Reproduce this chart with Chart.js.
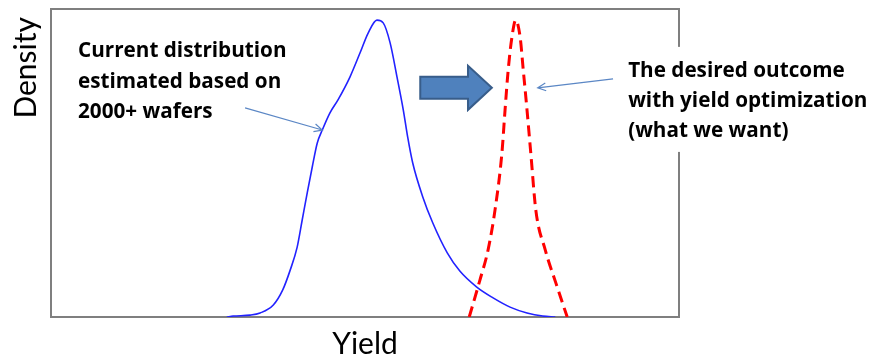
<!DOCTYPE html>
<html>
<head>
<meta charset="utf-8">
<script src="https://cdn.jsdelivr.net/npm/chart.js@4.4.1/dist/chart.umd.min.js"></script>
<style>
  html, body { margin: 0; padding: 0; background: #fff; }
  #wrap { width: 872px; height: 354px; }
</style>
</head>
<body>
<div id="wrap"><canvas id="chart"></canvas></div>
<script>
// current yield distribution (blue)
const currentYield = [28, 29.0, 31.7, 33.3, 35.4, 36.9, 38.1, 39.2, 40.0, 40.8, 41.6, 42.4, 43.2, 44.4, 45.7, 47.6, 49.2, 50.5, 51.9, 52.9, 54.0, 55.1, 56.1, 56.8, 57.6, 59.2, 60.8, 63.1, 65.1, 67.8, 70.4, 73.1, 75.8, 78.3, 80.3];
const currentDensity = [0, 0.003, 0.006, 0.013, 0.039, 0.088, 0.153, 0.227, 0.315, 0.403, 0.487, 0.565, 0.607, 0.662, 0.705, 0.779, 0.857, 0.922, 0.964, 0.955, 0.890, 0.779, 0.672, 0.584, 0.500, 0.390, 0.305, 0.208, 0.149, 0.097, 0.062, 0.032, 0.013, 0.003, 0];

// desired outcome (red dashed)
const desiredYield = [66.6, 68.3, 69.6, 70.7, 71.8, 72.3, 72.8, 73.4, 74.0, 74.7, 75.2, 75.8, 76.4, 77.2, 78.7, 80.4, 82.2];
const desiredDensity = [0, 0.120, 0.218, 0.347, 0.532, 0.672, 0.802, 0.909, 0.964, 0.909, 0.802, 0.672, 0.532, 0.347, 0.218, 0.110, 0];

const xTitle = "Yield";
const yTitle = "Density";
const currentNote = ["Current distribution", "estimated based on", "2000+ wafers"];
const desiredNote = ["The desired outcome", "with yield optimization", "(what we want)"];

function toPoints(xs, ys) {
    return xs.map((x, i) => ({ x: x, y: ys[i] }));
}

function drawArrow(ctx, x1, y1, x2, y2) {
    const ang = Math.atan2(y2 - y1, x2 - x1);
    const head = 9;
    ctx.beginPath();
    ctx.moveTo(x1, y1);
    ctx.lineTo(x2, y2);
    ctx.moveTo(x2 - head * Math.cos(ang - 0.45), y2 - head * Math.sin(ang - 0.45));
    ctx.lineTo(x2, y2);
    ctx.lineTo(x2 - head * Math.cos(ang + 0.45), y2 - head * Math.sin(ang + 0.45));
    ctx.stroke();
}

const notesPlugin = {
    id: "notes",
    beforeDatasetsDraw(chart) {
        const { ctx, chartArea } = chart;
        ctx.save();
        ctx.strokeStyle = "#7f7f7f";
        ctx.lineWidth = 2;
        ctx.beginPath();
        ctx.moveTo(chartArea.left, chartArea.top);
        ctx.lineTo(chartArea.right, chartArea.top);
        ctx.lineTo(chartArea.right, chartArea.bottom);
        ctx.stroke();
        ctx.restore();
    },
    afterDraw(chart) {
        const { ctx, chartArea } = chart;
        const sx = chart.scales.x, sy = chart.scales.y;
        const px = v => sx.getPixelForValue(v);
        const py = v => sy.getPixelForValue(v);
        ctx.save();

        // y axis title, near the top like the original
        ctx.save();
        ctx.translate(chartArea.left - 15, chartArea.top + 8);
        ctx.rotate(-Math.PI / 2);
        ctx.font = "30px Lato";
        ctx.fillStyle = "#000";
        ctx.textAlign = "right";
        ctx.textBaseline = "alphabetic";
        ctx.fillText(yTitle, 0, 0);
        ctx.restore();

        // big block arrow
        const x0 = px(58.8), x1 = px(66.4), x2 = px(70.2);
        const yc = py(0.744);
        ctx.beginPath();
        ctx.moveTo(x0, yc - 11);
        ctx.lineTo(x1, yc - 11);
        ctx.lineTo(x1, yc - 22);
        ctx.lineTo(x2, yc);
        ctx.lineTo(x1, yc + 22);
        ctx.lineTo(x1, yc + 11);
        ctx.lineTo(x0, yc + 11);
        ctx.closePath();
        ctx.fillStyle = "#4f81bd";
        ctx.fill();
        ctx.strokeStyle = "#385d8a";
        ctx.lineWidth = 2;
        ctx.stroke();

        // white box behind the right note
        const rx = px(91.9);
        ctx.fillStyle = "#fff";
        ctx.fillRect(rx - 8, py(0.877), chart.width - rx + 8, py(0.536) - py(0.877));

        // notes
        ctx.fillStyle = "#000";
        ctx.font = "bold 20.7px 'Open Sans'";
        ctx.textBaseline = "alphabetic";
        ctx.textAlign = "left";
        const leftY = [0.844, 0.745, 0.646];
        currentNote.forEach((t, i) => ctx.fillText(t, px(4.3), py(leftY[i])));
        const rightY = [0.779, 0.682, 0.584];
        desiredNote.forEach((t, i) => ctx.fillText(t, rx, py(rightY[i])));

        // thin pointer arrows
        ctx.strokeStyle = "#5b87c5";
        ctx.lineWidth = 1.2;
        drawArrow(ctx, px(30.9), py(0.679), px(43.2), py(0.607));
        drawArrow(ctx, px(89.5), py(0.773), px(77.5), py(0.744));
        ctx.restore();
    }
};

const ctx = document.getElementById("chart").getContext("2d");
new Chart(ctx, {
    type: "line",
    data: {
        datasets: [
            {
                label: "Current",
                data: toPoints(currentYield, currentDensity),
                borderColor: "#2222ff",
                borderWidth: 1.6,
                pointRadius: 0,
                cubicInterpolationMode: "monotone",
                fill: false
            },
            {
                label: "Desired",
                data: toPoints(desiredYield, desiredDensity),
                borderColor: "#ff0000",
                borderWidth: 3,
                borderDash: [11, 6],
                pointRadius: 0,
                cubicInterpolationMode: "monotone",
                fill: false
            }
        ]
    },
    options: {
        responsive: true,
        maintainAspectRatio: false,
        animation: false,
        layout: { padding: { top: 9, right: 193, left: 0, bottom: 0 } },
        plugins: { legend: { display: false }, tooltip: { enabled: false } },
        scales: {
            x: {
                type: "linear",
                min: 0,
                max: 100,
                ticks: { display: false },
                grid: { display: false, drawTicks: false },
                border: { color: "#7f7f7f", width: 2 },
                title: { display: true, text: xTitle, color: "#000", font: { family: "Lato", size: 30 }, padding: { top: 0, bottom: -8 } },
                afterFit(scale) { scale.height = 37; }
            },
            y: {
                min: 0,
                max: 1,
                ticks: { display: false },
                grid: { display: false, drawTicks: false },
                border: { color: "#7f7f7f", width: 2 },
                afterFit(scale) { scale.width = 51; }
            }
        }
    },
    plugins: [notesPlugin]
});
</script>
</body>
</html>
